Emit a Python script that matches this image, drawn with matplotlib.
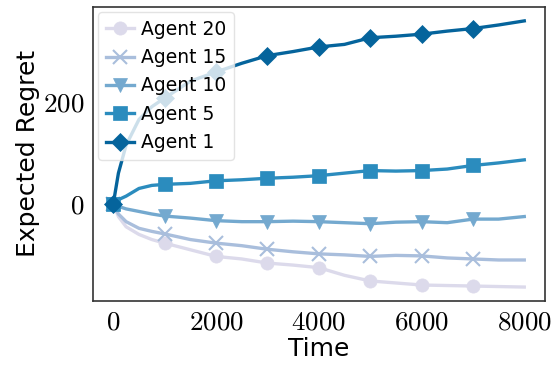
import numpy as np
import matplotlib
matplotlib.use("Agg")
import matplotlib.pyplot as plt
from matplotlib.ticker import FuncFormatter

# time steps (x) and expected regret for each agent
time = [0, 100, 250, 500, 750, 1000, 1500, 2000, 2500, 3000, 3500, 4000,
        4500, 5000, 5500, 6000, 6500, 7000, 7500, 8000]
agent_20 = [0, -25, -45, -60, -70, -77, -90, -103, -108, -116, -120, -125,
            -140, -151, -155, -159, -160, -161, -162, -163]
agent_15 = [0, -20, -35, -48, -54, -59, -70, -77, -82, -89, -94, -98,
            -100, -103, -101, -102, -106, -108, -110, -110]
agent_10 = [0, -5, -10, -15, -20, -24, -28, -33, -35, -35, -34, -35,
            -37, -39, -36, -35, -37, -30, -30, -25]
agent_5 = [0, 8, 15, 30, 36, 38, 40, 45, 47, 50, 52, 55,
           60, 65, 64, 65, 68, 75, 80, 86]
agent_1 = [0, 60, 115, 165, 190, 207, 240, 258, 275, 290, 298, 307,
           312, 325, 328, 332, 338, 343, 350, 358]

labels = ["Agent 20", "Agent 15", "Agent 10", "Agent 5", "Agent 1"]
series = [agent_20, agent_15, agent_10, agent_5, agent_1]
markers = ["o", "x", "v", "s", "D"]
colors = ["#dcdaeb", "#a9bedc", "#74a9cf", "#2b8cbe", "#05649c"]

plt.rcParams["mathtext.fontset"] = "cm"
plt.rcParams["font.family"] = "DejaVu Sans"

fig, ax = plt.subplots(figsize=(5.52, 3.66), dpi=100)
mark_idx = [i for i, t in enumerate(time) if t % 1000 == 0 and t < 8000]
for y, lab, m, c in zip(series, labels, markers, colors):
    ax.plot(time, y, color=c, lw=2.4, marker=m, markersize=9.5, markevery=mark_idx,
            markeredgewidth=1.5 if m == "x" else 0.5, label=lab)

ax.set_ylim(-190, 386)
ax.set_yticks([0, 200])
ax.set_xticks([0, 2000, 4000, 6000, 8000])
fmt = FuncFormatter(lambda v, p: "$%d$" % v)
ax.xaxis.set_major_formatter(fmt)
ax.yaxis.set_major_formatter(fmt)
ax.tick_params(length=0, labelsize=19.5, pad=6)
for s in ax.spines.values():
    s.set_color("#333333")
    s.set_linewidth(1.2)

ax.set_xlabel("Time", fontsize=18, labelpad=1)
ax.set_ylabel("Expected Regret", fontsize=18, labelpad=2)
leg = ax.legend(loc="upper left", fontsize=13.5, borderaxespad=0.3,
                handlelength=1.5, handletextpad=0.4, labelspacing=0.5,
                framealpha=0.8)
leg.get_frame().set_edgecolor("#dddddd")

plt.subplots_adjust(left=0.168, right=0.987, top=0.982, bottom=0.178)
plt.savefig("out.png")
